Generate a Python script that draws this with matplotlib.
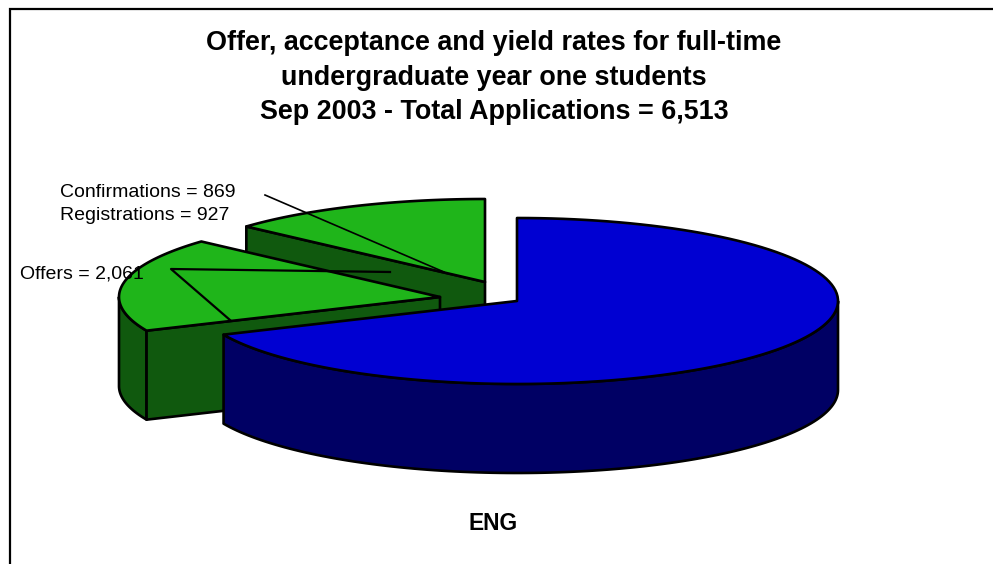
import numpy as np
import matplotlib
matplotlib.use('Agg')
import matplotlib.pyplot as plt
from matplotlib.patches import Polygon

# data
total_applications = 6513
offers = 2061
confirmations = 869
registrations = 927
slice_names = ['ENG', 'Offers', 'Confirmations']
slice_values = [total_applications - offers, offers - confirmations, confirmations]
title_lines = ['Offer, acceptance and yield rates for full-time',
               'undergraduate year one students',
               'Sep 2003 - Total Applications = {:,}'.format(total_applications)]

# colours and layout (pixels of the 993x564 picture)
top_blue, side_blue = '#0000d2', '#000064'
top_green, side_green = '#1fb51a', '#10590e'
centres = [(517, 301), (440, 297), (485, 282)]
rx, ry, depth = 321, 83, 89

plt.rcParams['font.family'] = ['Liberation Sans', 'DejaVu Sans']
fig = plt.figure(figsize=(9.93, 5.64), dpi=100)
ax = fig.add_axes([0, 0, 1, 1])
ax.set_xlim(0, 993)
ax.set_ylim(564, 0)
ax.axis('off')


def rim(c, a0, a1):
    # angle clockwise from 12 o'clock, projected on to the flat ellipse
    t = np.radians(np.linspace(a0, a1, 120))
    return np.column_stack([c[0] + rx * np.sin(t), c[1] - ry * np.cos(t)])


def add_poly(pts, colour, z):
    ax.add_patch(Polygon(pts, closed=True, facecolor=colour, edgecolor='black',
                         linewidth=1.9, joinstyle='round', zorder=z))


def draw_slice(c, a0, a1, top, side, z):
    down = np.array([0, depth])
    c = np.array(c, dtype=float)
    # outer wall, only the part facing the viewer
    lo, hi = max(a0, 90), min(a1, 270)
    if lo < hi:
        r = rim(c, lo, hi)
        add_poly(np.vstack([r, (r + down)[::-1]]), side, z)
    # start edge of the slice faces front when it lies on the left side
    e = rim(c, a0, a0)[0]
    if 180 < a0 < 360:
        add_poly(np.array([c, e, e + down, c + down]), side, z)
    add_poly(np.vstack([[c], rim(c, a0, a1)]), top, z + 0.5)


edges = np.cumsum([0] + slice_values) / total_applications * 360
draw_order = [2, 1, 0]
tops = [top_blue, top_green, top_green]
sides = [side_blue, side_green, side_green]
for z, i in enumerate(draw_order):
    draw_slice(centres[i], edges[i], edges[i + 1], tops[i], sides[i], z + 2)

# frame, only left and top show in the crop
ax.plot([10, 10, 993], [564, 9, 9], color='black', lw=1.6, zorder=1,
        solid_joinstyle='miter')

# labels
ax.text(60, 192.5, 'Confirmations = {:,}'.format(confirmations), fontsize=14, va='center', ha='left', zorder=10)
ax.text(60, 216, 'Registrations = {:,}'.format(registrations), fontsize=14, va='center', ha='left', zorder=10)
ax.text(20, 274, 'Offers = {:,}'.format(offers), fontsize=14, va='center', ha='left', zorder=10)

# leader lines
ax.plot([265, 444], [195, 272], color='black', lw=1.2, zorder=9)
ax.plot([390, 171, 230], [272, 269, 320], color='black', lw=1.6, zorder=9)

for y, line in zip([43, 78, 112], title_lines):
    ax.text(494, y, line, fontsize=19.4, fontweight='bold', ha='center', va='center')
ax.text(493, 524, slice_names[0], fontsize=16.4, fontweight='bold', ha='center', va='center')

fig.savefig('out.png', dpi=100)
